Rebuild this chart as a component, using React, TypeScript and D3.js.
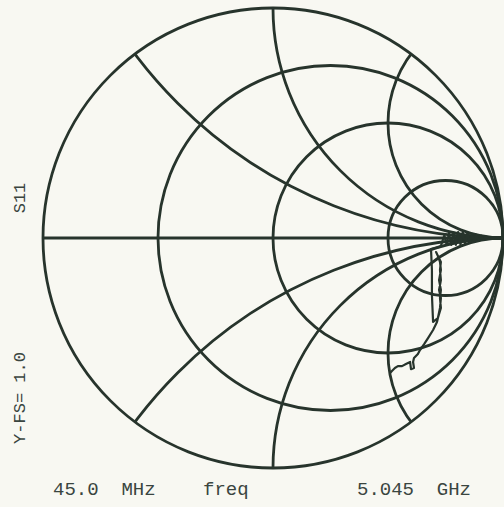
import React from 'react';
import * as d3 from 'd3';

// Smith chart grid values
const resistances = [1 / 3, 1, 3];
const reactances = [0.5, 1, 2, -0.5, -1, -2];

// S11 trace, reflection coefficient (real, imag)
const traceRe = [
  0.935, 0.925, 0.915, 0.905, 0.895, 0.885, 0.875, 0.865, 0.855, 0.845, 0.835, 0.825, 0.815, 0.805, 0.795, 0.785,
  0.775, 0.765, 0.755, 0.745, 0.73, 0.72, 0.687,
  0.691, 0.691, 0.696,
  0.717, 0.726, 0.73, 0.722, 0.73, 0.726, 0.73, 0.717, 0.709,
  0.717, 0.726, 0.73, 0.722, 0.73, 0.726, 0.73, 0.717,
  0.713, 0.696, 0.674, 0.657, 0.639, 0.63, 0.613, 0.609, 0.613, 0.6, 0.596, 0.578, 0.561, 0.543, 0.53, 0.517, 0.509];
const traceIm = [
  0.0, 0.006, -0.008, 0.01, -0.012, 0.014, -0.016, 0.018, -0.02, 0.022, -0.024, 0.026, -0.028, 0.026, -0.03, 0.024,
  -0.03, 0.02, -0.03, 0.012, -0.034, -0.04, -0.048,
  -0.139, -0.248, -0.365,
  -0.348, -0.304, -0.261, -0.226, -0.183, -0.139, -0.104, -0.078, -0.061,
  -0.078, -0.104, -0.139, -0.183, -0.226, -0.261, -0.304, -0.348,
  -0.365, -0.4, -0.435, -0.461, -0.487, -0.504, -0.522, -0.539, -0.565, -0.57, -0.539, -0.548, -0.557, -0.557, -0.565, -0.578, -0.587];

const sideLabels = ['S11', 'Y-FS= 1.0'];
const bottomLabels = ['45.0  MHz', 'freq', '5.045  GHz'];

const W = 504;
const H = 507;
const cx = 273;
const cy = 238;
const R = 230;
const ink = '#27342c';

export default function App() {
  const x = d3.scaleLinear().domain([-1, 1]).range([cx - R, cx + R]);
  const y = d3.scaleLinear().domain([-1, 1]).range([cy + R, cy - R]);
  const k = R; // pixels per unit

  const line = d3.line<number>()
    .x((_, i) => x(traceRe[i]))
    .y((_, i) => y(traceIm[i]));

  return (
    <svg width={W} height={H} style={{ position: 'absolute', left: 0, top: 0, background: '#f8f8f2' }}>
      <defs>
        <clipPath id="unit">
          <circle cx={x(0)} cy={y(0)} r={k} />
        </clipPath>
      </defs>
      <g fill="none" stroke={ink} strokeWidth={2.8}>
        <circle cx={x(0)} cy={y(0)} r={k} />
        <line x1={x(-1)} x2={x(1)} y1={y(0)} y2={y(0)} />
        {resistances.map(r => (
          <circle key={'r' + r} cx={x(r / (r + 1))} cy={y(0)} r={k / (r + 1)} />
        ))}
        <g clipPath="url(#unit)">
          {reactances.map(v => (
            <circle key={'x' + v} cx={x(1)} cy={y(1 / v)} r={k / Math.abs(v)} />
          ))}
        </g>
      </g>
      <path d={line(traceRe) || ''} fill="none" stroke={ink} strokeWidth={2.2} strokeLinejoin="round" />
      <g fontFamily="'Liberation Mono', monospace" fill="#3a4540">
        <text transform="translate(25,198) rotate(-90)" textAnchor="middle" fontSize={17}>{sideLabels[0]}</text>
        <text transform="translate(25,398) rotate(-90)" textAnchor="middle" fontSize={17} xmlSpace="preserve">{sideLabels[1]}</text>
        <text x={53} y={495} fontSize={19} xmlSpace="preserve">{bottomLabels[0]}</text>
        <text x={203} y={495} fontSize={19} xmlSpace="preserve">{bottomLabels[1]}</text>
        <text x={357} y={495} fontSize={19} xmlSpace="preserve">{bottomLabels[2]}</text>
      </g>
    </svg>
  );
}
